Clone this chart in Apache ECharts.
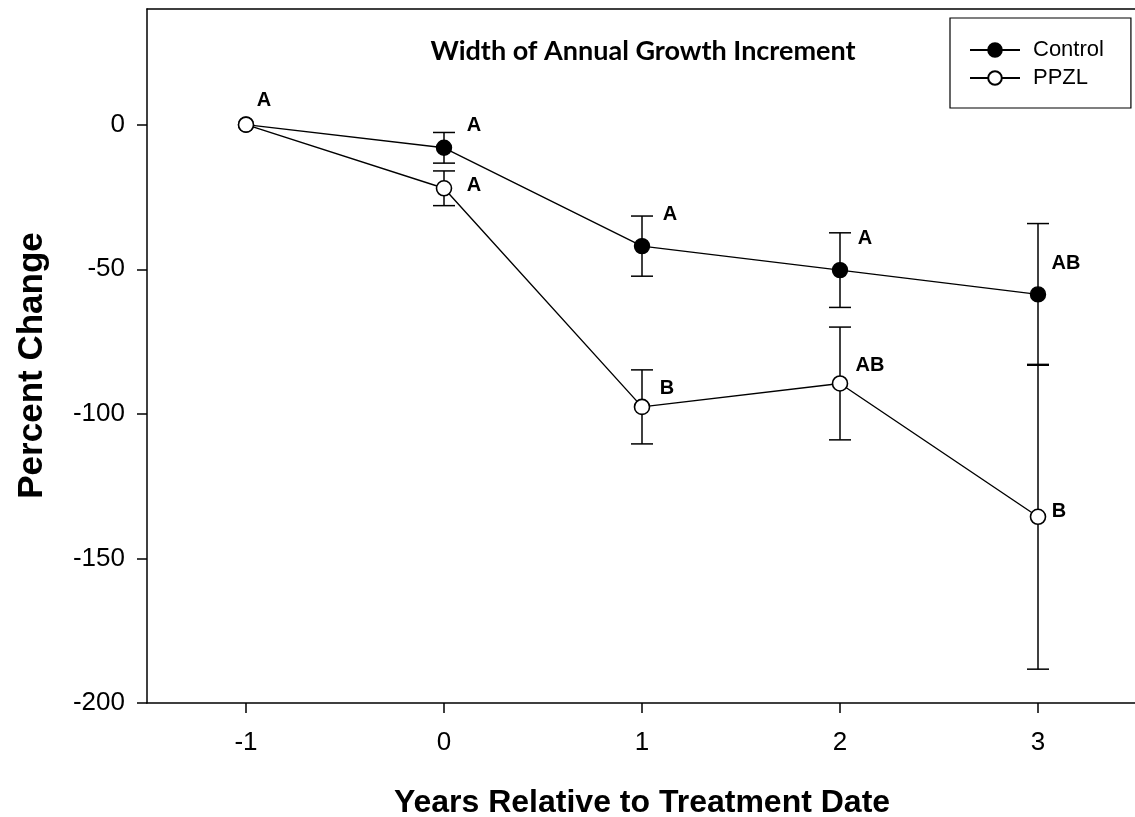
<!DOCTYPE html>
<html>
<head>
<meta charset="utf-8">
<script src="https://cdn.jsdelivr.net/npm/echarts@6/dist/echarts.min.js"></script>
<style>
html,body{margin:0;padding:0;background:#fff;}
#chart{width:1135px;height:817px;}
</style>
</head>
<body>
<div id="chart"></div>
<script>
// ---- data ----
const xValues = [-1, 0, 1, 2, 3];
const controlMean = [0, -8, -42, -50.3, -58.7];
const controlErr = [0, 5.3, 10.4, 12.9, 24.5];
const ppzlMean = [0, -22, -97.6, -89.5, -135.6];
const ppzlErr = [0, 6, 12.8, 19.5, 52.7];
const controlLetters = ['', 'A', 'A', 'A', 'AB'];
const ppzlLetters = ['A', 'A', 'B', 'AB', 'B'];
const xTicks = [-1, 0, 1, 2, 3];
const yTicks = [-200, -150, -100, -50, 0];

// ---- styles (label placement) ----
const controlLabelOffsets = [[0, 0], [30, -22], [28, -32], [25, -32], [28, -31]];
const ppzlLabelOffsets = [[18, -24], [30, -3], [25, -18], [30, -18], [21, -5]];

const FONT = '"Liberation Sans", Arial, sans-serif';

function pointData(means, letters, offsets) {
  return xValues.map((x, i) => ({
    value: [x, means[i]],
    label: {
      show: letters[i] !== '',
      formatter: letters[i],
      position: 'inside',
      offset: offsets[i],
      fontSize: 20,
      fontWeight: 'bold',
      fontFamily: FONT,
      color: '#000'
    }
  }));
}

function errData(means, errs) {
  return xValues.map((x, i) => [x, means[i], errs[i]]);
}

function renderErr(params, api) {
  const x = api.value(0), m = api.value(1), e = api.value(2);
  if (!e) return null;
  const top = api.coord([x, m + e]);
  const bot = api.coord([x, m - e]);
  const hw = 11;
  const style = { stroke: '#000', lineWidth: 1.5, fill: null };
  return {
    type: 'group',
    children: [
      { type: 'line', shape: { x1: top[0], y1: top[1], x2: bot[0], y2: bot[1] }, style },
      { type: 'line', shape: { x1: top[0] - hw, y1: top[1], x2: top[0] + hw, y2: top[1] }, style },
      { type: 'line', shape: { x1: bot[0] - hw, y1: bot[1], x2: bot[0] + hw, y2: bot[1] }, style }
    ]
  };
}

const chart = echarts.init(document.getElementById('chart'), null, { renderer: 'canvas' });
chart.setOption({
  backgroundColor: '#fff',
  animation: false,
  title: {
    text: 'Width of Annual Growth Increment',
    left: 638,
    top: 33,
    textAlign: 'center',
    textStyle: { fontFamily: 'Lato, "Open Sans", sans-serif', fontWeight: 'bold', fontSize: 27, color: '#000' }
  },
  legend: {
    left: 950,
    top: 18,
    orient: 'vertical',
    data: ['Control', 'PPZL'],
    itemWidth: 50,
    itemHeight: 17,
    itemGap: 6,
    padding: [21, 27, 19, 19],
    borderColor: '#000',
    borderWidth: 1.2,
    backgroundColor: '#fff',
    textStyle: { fontFamily: FONT, fontSize: 22, color: '#000', padding: [0, 0, 0, 8] }
  },
  grid: {
    left: 147, top: 9, width: 990, height: 694,
    show: false,
    containLabel: false,
    outerBoundsMode: 'none'
  },
  xAxis: [{
    type: 'value',
    min: -1.5, max: 3.5,
    name: 'Years Relative to Treatment Date',
    nameLocation: 'middle',
    nameGap: 84,
    nameTextStyle: { fontFamily: FONT, fontWeight: 'bold', fontSize: 32, color: '#000' },
    splitLine: { show: false },
    axisLine: { show: true, onZero: false, lineStyle: { color: '#000', width: 1.5 } },
    axisTick: { show: true, inside: false, length: 10, customValues: xTicks, lineStyle: { color: '#000', width: 1.5 } },
    axisLabel: { customValues: xTicks, margin: 27, fontFamily: FONT, fontSize: 26, color: '#000' }
  }, {
    type: 'value',
    position: 'top',
    min: -1.5, max: 3.5,
    splitLine: { show: false },
    axisLine: { show: true, onZero: false, lineStyle: { color: '#000', width: 1.5 } },
    axisTick: { show: false },
    axisLabel: { show: false }
  }],
  yAxis: {
    type: 'value',
    min: -200, max: 40,
    name: 'Percent Change',
    nameLocation: 'middle',
    nameGap: 97,
    nameRotate: 90,
    nameTextStyle: { fontFamily: FONT, fontWeight: 'bold', fontSize: 35, color: '#000', padding: [0, 19, 0, 0] },
    splitLine: { show: false },
    axisLine: { show: true, onZero: false, lineStyle: { color: '#000', width: 1.5 } },
    axisTick: { show: true, inside: false, length: 10, customValues: yTicks, lineStyle: { color: '#000', width: 1.5 } },
    axisLabel: { customValues: yTicks, margin: 22, fontFamily: FONT, fontSize: 26, color: '#000' }
  },
  series: [
    {
      type: 'custom', name: 'ControlErr', renderItem: renderErr, data: errData(controlMean, controlErr), z: 1, silent: true
    },
    {
      type: 'custom', name: 'PPZLErr', renderItem: renderErr, data: errData(ppzlMean, ppzlErr), z: 1, silent: true
    },
    {
      type: 'line', name: 'Control', z: 3,
      data: pointData(controlMean, controlLetters, controlLabelOffsets),
      symbol: 'circle', symbolSize: 15,
      lineStyle: { color: '#000', width: 1.4 },
      itemStyle: { color: '#000', borderColor: '#000', borderWidth: 1.4 }
    },
    {
      type: 'line', name: 'PPZL', z: 4,
      data: pointData(ppzlMean, ppzlLetters, ppzlLabelOffsets),
      symbol: 'circle', symbolSize: 15,
      lineStyle: { color: '#000', width: 1.4 },
      itemStyle: { color: '#fff', borderColor: '#000', borderWidth: 1.6 }
    }
  ]
});
</script>
</body>
</html>
